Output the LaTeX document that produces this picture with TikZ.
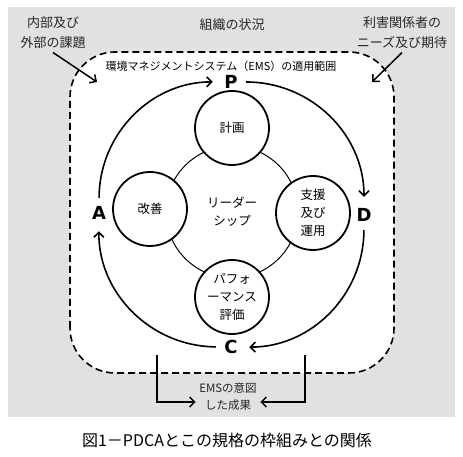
\documentclass[tikz,border=0pt]{standalone}
\usepackage{fontspec}
\setmainfont{Noto Sans CJK JP}
\newfontfamily\pdcafont{DejaVu Sans}
\usetikzlibrary{arrows.meta}

\definecolor{bggray}{RGB}{225,225,225}

\tikzset{
  stage/.style={draw, circle, line width=1.8pt, fill=white, minimum size=74pt,
    inner sep=0pt, align=center, font=\fontsize{12.5}{18}\selectfont},
  letter/.style={circle, minimum size=30pt, inner sep=0pt,
    font=\pdcafont\bfseries\fontsize{18}{18}\selectfont},
  pdcaarrow/.style={line width=1.6pt, -{Straight Barb[length=5pt,width=10pt]}, shorten >=3pt},
  outtext/.style={align=center, text=black!85, font=\fontsize{13}{20}\selectfont},
  pointer/.style={line width=1.5pt, -{Straight Barb[length=5pt,width=10pt]}},
}

\begin{document}
\begin{tikzpicture}[x=1pt,y=1pt]
\useasboundingbox (0,0) rectangle (463,457);

\fill[bggray] (8,40) rectangle (455,450);
\draw[dash pattern=on 7pt off 4pt, line width=1.6pt, fill=white, rounded corners=45pt] (70,84) rectangle (394,405);

% outside inputs
\node[outtext] (context) at (232,432) {組織の状況};
\node[outtext] (issues) at (53,424) {内部及び\\外部の課題};
\node[outtext] (needs) at (402,424) {利害関係者の\\ニーズ及び期待};
\coordinate (issuesend) at (97,375);
\coordinate (needsend) at (372,375);
\draw[pointer] (issues.south) -- (issuesend);
\draw[pointer] (needs.south) -- (needsend);

\node[font=\fontsize{11}{13}\selectfont] (scope) at (221,391) {環境マネジメントシステム（EMS）の適用範囲};

% inner circles
\node[draw, circle, line width=1pt, fill=white, minimum size=132pt, align=center,
  font=\fontsize{12.5}{18}\selectfont] (leader) at (232,245) {リーダー\\シップ};
\node[stage] (plan) at (232,329) {計画};
\node[stage] (act) at (150,248) {改善};
\node[stage] (support) at (313,244) {支援\\及び\\運用};
\node[stage] (perf) at (232,160) {パフォ\\ーマンス\\評価};

% PDCA
\node[letter] (P) at (231,375) {P};
\node[letter] (D) at (364,242) {D};
\node[letter] (C) at (231,110) {C};
\node[letter] (A) at (99,244) {A};
\draw[pdcaarrow] (P) to[bend left=45] (D);
\draw[pdcaarrow] (D) to[bend left=45] (C);
\draw[pdcaarrow] (C) to[bend left=45] (A);
\draw[pdcaarrow] (A) to[bend left=45] (P);

% outcomes
\node[outtext, font=\fontsize{11.5}{17}\selectfont] (result) at (228,60) {EMSの意図\\した成果};
\coordinate (leftstart) at (157,102);
\coordinate (rightstart) at (305,102);
\draw[pointer] (leftstart) |- ([yshift=-5pt]result.west);
\draw[pointer] (rightstart) |- ([yshift=-5pt]result.east);

\node[font=\fontsize{16}{18}\selectfont] (caption) at (227,17) {図1－PDCAとこの規格の枠組みとの関係};
\end{tikzpicture}
\end{document}
